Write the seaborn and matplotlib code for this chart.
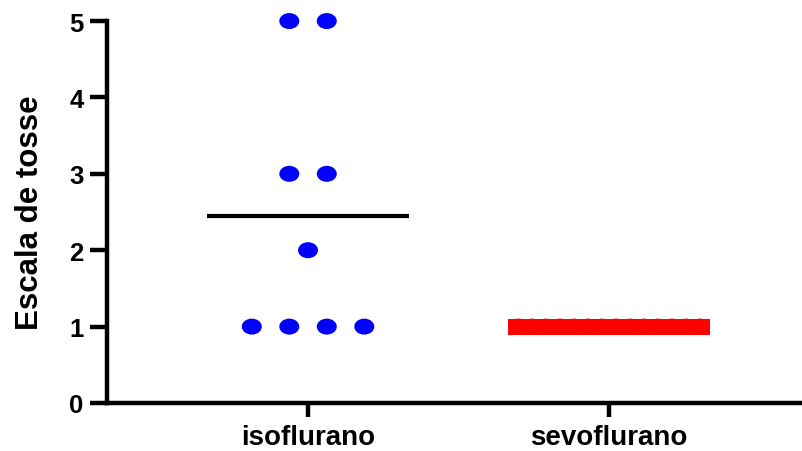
import numpy as np
import pandas as pd
import matplotlib
matplotlib.use("Agg")
import matplotlib.pyplot as plt
import seaborn as sns
from matplotlib.path import Path
from matplotlib.markers import MarkerStyle
from matplotlib.transforms import Affine2D

# dados
grupos = ["isoflurano", "sevoflurano"]
isoflurano = [5, 5, 3, 3, 2, 1, 1, 1, 1]
sevoflurano = [1] * 14
cores_pontos = ["#0000ff", "#ff0000"]
cores_media = ["black", "#ff0000"]
yticks = [0, 1, 2, 3, 4, 5]

sns.set_style("ticks", {"axes.edgecolor": "black", "text.color": "black",
                        "axes.labelcolor": "black"})
plt.rcParams["font.family"] = ["Liberation Sans", "DejaVu Sans"]
plt.rcParams["font.weight"] = "bold"

# espaçamento dos pontos (em unidades do eixo x)
passo = {"isoflurano": 0.1246, "sevoflurano": 0.0465}

linhas = []
for i, (g, vals) in enumerate(zip(grupos, [isoflurano, sevoflurano])):
    vals = np.array(vals)
    for v in np.unique(vals):
        k = int((vals == v).sum())
        offs = (np.arange(k) - (k - 1) / 2) * passo[g]
        for o in offs:
            linhas.append({"grupo": g, "valor": v, "x": i + o})
df = pd.DataFrame(linhas)

fig = plt.figure(figsize=(8.03, 4.52), dpi=100)
ax = fig.add_axes([0.1333, 0.1062, 0.8667, 0.845])

elipse = MarkerStyle(Path.unit_circle().transformed(Affine2D().scale(1.25, 1.0)))
sns.scatterplot(data=df, x="x", y="valor", hue="grupo", palette=cores_pontos,
                marker=elipse, s=207, linewidth=0, legend=False,
                clip_on=False, zorder=3, ax=ax)

# linhas de média
larguras = [3.0, 11.5]
for i, vals in enumerate([isoflurano, sevoflurano]):
    m = np.mean(vals)
    ax.plot([i - 0.336, i + 0.336], [m, m], color=cores_media[i],
            lw=larguras[i], solid_capstyle="butt", zorder=4, clip_on=False)

ax.set_xlim(-0.668, 1.645)
ax.set_ylim(0, 5)
ax.set_xticks([0, 1])
ax.set_xticklabels(grupos, fontsize=20, fontweight="bold")
ax.set_yticks(yticks)
ax.set_yticklabels([str(t) for t in yticks], fontsize=18.5, fontweight="bold")
ax.set_xlabel("")
ax.set_ylabel("Escala de tosse", fontsize=22.5, fontweight="bold", labelpad=17,
              color="black")

for s in ["top", "right"]:
    ax.spines[s].set_visible(False)
for s in ["left", "bottom"]:
    ax.spines[s].set_linewidth(3.2)
    ax.spines[s].set_color("black")
ax.tick_params(axis="y", width=3.2, length=12, pad=5, colors="black")
ax.tick_params(axis="x", width=3.2, length=10, pad=5, colors="black")

fig.savefig("out.png", dpi=100)
